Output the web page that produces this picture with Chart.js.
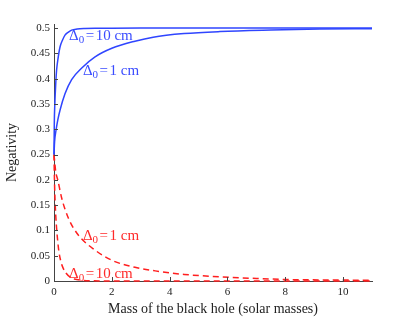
<!DOCTYPE html>
<html>
<head>
<meta charset="utf-8">
<script src="https://cdn.jsdelivr.net/npm/chart.js@4.4.1/dist/chart.umd.min.js"></script>
<style>
  html, body { margin: 0; padding: 0; background: #fff; }
  #wrap { width: 415px; height: 332px; }
</style>
</head>
<body>
<div id="wrap"><canvas id="c" width="415" height="332"></canvas></div>
<script>
// ---- data ----
const xBlue10 = [0, 0.01, 0.03, 0.06, 0.09, 0.14, 0.21, 0.3, 0.38, 0.5, 0.61, 0.8, 1.07, 1.5, 2, 3, 5, 8, 11];
const yBlue10 = [0.25, 0.31, 0.352, 0.39, 0.417, 0.44, 0.463, 0.477, 0.486, 0.492, 0.496, 0.498, 0.499, 0.4995, 0.4997, 0.4999, 0.5, 0.5, 0.5];

const xBlue1 = [0, 0.02, 0.07, 0.13, 0.21, 0.38, 0.61, 0.96, 1.42, 2.0, 2.8, 3.43, 4.5, 5.74, 7.5, 9.2, 11];
const yBlue1 = [0.25, 0.275, 0.298, 0.318, 0.338, 0.37, 0.398, 0.421, 0.443, 0.46, 0.474, 0.482, 0.489, 0.493, 0.496, 0.498, 0.4985];

const xRed1 = [0, 0.03, 0.06, 0.13, 0.27, 0.5, 0.84, 1.42, 2.0, 2.8, 3.5, 4.5, 5.5, 7, 8, 9.5, 11];
const yRed1 = [0.25, 0.232, 0.216, 0.2, 0.163, 0.124, 0.091, 0.061, 0.041, 0.027, 0.02, 0.013, 0.009, 0.005, 0.003, 0.002, 0.0015];

const xRed10 = [0, 0.01, 0.03, 0.06, 0.09, 0.13, 0.17, 0.24, 0.32, 0.41, 0.55, 0.7, 0.96, 1.3, 2, 4, 11];
const yRed10 = [0.25, 0.215, 0.17, 0.13, 0.104, 0.078, 0.058, 0.038, 0.025, 0.016, 0.008, 0.004, 0.0015, 0.0005, 0.0001, 0, 0];

const xTicks = [0, 2, 4, 6, 8, 10];
const xTickLabels = ['0', '2', '4', '6', '8', '10'];
const yTicks = [0, 0.05, 0.1, 0.15, 0.2, 0.25, 0.3, 0.35, 0.4, 0.45, 0.5];
const yTickLabels = ['0', '0.05', '0.1', '0.15', '0.2', '0.25', '0.3', '0.35', '0.4', '0.45', '0.5'];

// curve labels: [text after "=", x, y (data coords), colour]
const curveLabels = [
  ['10 cm', 0.52, 0.476, '#3a4cff'],
  ['1 cm', 1.0, 0.408, '#3a4cff'],
  ['1 cm', 1.0, 0.081, '#ff2a2a'],
  ['10 cm', 0.52, 0.006, '#ff2a2a']
];

const BLUE = '#2f45ff';
const RED = '#ff1f1f';
const FONT = "'Liberation Serif', 'Times New Roman', serif";

function pts(xs, ys) { return xs.map((x, i) => ({ x: x, y: ys[i] })); }

const overlay = {
  id: 'overlay',
  afterDraw(chart) {
    const { ctx, chartArea, scales } = chart;
    const xs = scales.x, ys = scales.y;
    ctx.save();
    // inward ticks
    ctx.strokeStyle = '#444';
    ctx.lineWidth = 1;
    xTicks.forEach(v => {
      const px = Math.round(xs.getPixelForValue(v)) + 0.5;
      ctx.beginPath();
      ctx.moveTo(px, chartArea.bottom);
      ctx.lineTo(px, chartArea.bottom - 4);
      ctx.stroke();
    });
    yTicks.forEach(v => {
      const py = Math.round(ys.getPixelForValue(v)) + 0.5;
      ctx.beginPath();
      ctx.moveTo(chartArea.left, py);
      ctx.lineTo(chartArea.left + 4, py);
      ctx.stroke();
    });
    // curve labels
    curveLabels.forEach(([rest, xv, yv, col]) => {
      let px = xs.getPixelForValue(xv);
      const py = ys.getPixelForValue(yv);
      ctx.fillStyle = col;
      ctx.textBaseline = 'alphabetic';
      ctx.textAlign = 'left';
      ctx.font = '15px ' + FONT;
      ctx.fillText('\u0394', px, py);
      px += ctx.measureText('\u0394').width;
      ctx.font = '11px ' + FONT;
      ctx.fillText('0', px, py + 3);
      px += ctx.measureText('0').width + 1.5;
      ctx.font = '15px ' + FONT;
      ctx.fillText('=', px, py);
      px += ctx.measureText('=').width + 1.5;
      ctx.fillText(rest, px, py);
    });
    ctx.restore();
  }
};

new Chart(document.getElementById('c'), {
  type: 'line',
  data: {
    datasets: [
      { data: pts(xBlue10, yBlue10), borderColor: BLUE, borderWidth: 1.5, pointRadius: 0, cubicInterpolationMode: 'monotone', fill: false },
      { data: pts(xBlue1, yBlue1), borderColor: BLUE, borderWidth: 1.5, pointRadius: 0, cubicInterpolationMode: 'monotone', fill: false },
      { data: pts(xRed1, yRed1), borderColor: RED, borderWidth: 1.5, borderDash: [6, 4], pointRadius: 0, cubicInterpolationMode: 'monotone', fill: false },
      { data: pts(xRed10, yRed10), borderColor: RED, borderWidth: 1.5, borderDash: [6, 4], pointRadius: 0, cubicInterpolationMode: 'monotone', fill: false }
    ]
  },
  options: {
    responsive: false,
    devicePixelRatio: 1,
    animation: false,
    clip: false,
    layout: { padding: { top: 24, right: 43, bottom: 12, left: 0 } },
    plugins: { legend: { display: false }, tooltip: { enabled: false } },
    scales: {
      x: {
        type: 'linear', min: 0, max: 11,
        afterFit: s => { s.height = 39; },
        afterBuildTicks: s => { s.ticks = xTicks.map(v => ({ value: v })); },
        grid: { display: false, drawTicks: false },
        border: { display: true, color: '#444', width: 1 },
        ticks: { padding: 5, color: '#222', font: { family: FONT, size: 11 }, maxRotation: 0,
                 callback: (v, i) => xTickLabels[i] },
        title: { display: true, text: 'Mass of the black hole (solar masses)', color: '#222',
                 font: { family: FONT, size: 14 }, padding: { top: 2, bottom: 2 } }
      },
      y: {
        type: 'linear', min: 0, max: 0.508,
        afterFit: s => { s.width = 54; },
        afterBuildTicks: s => { s.ticks = yTicks.map(v => ({ value: v })); },
        grid: { display: false, drawTicks: false },
        border: { display: true, color: '#444', width: 1 },
        ticks: { padding: 4, color: '#222', font: { family: FONT, size: 11 },
                 callback: (v, i) => yTickLabels[i] },
        title: { display: true, text: 'Negativity', color: '#222',
                 font: { family: FONT, size: 14 }, padding: { top: 4, bottom: 2 } }
      }
    }
  },
  plugins: [overlay]
});
</script>
</body>
</html>
